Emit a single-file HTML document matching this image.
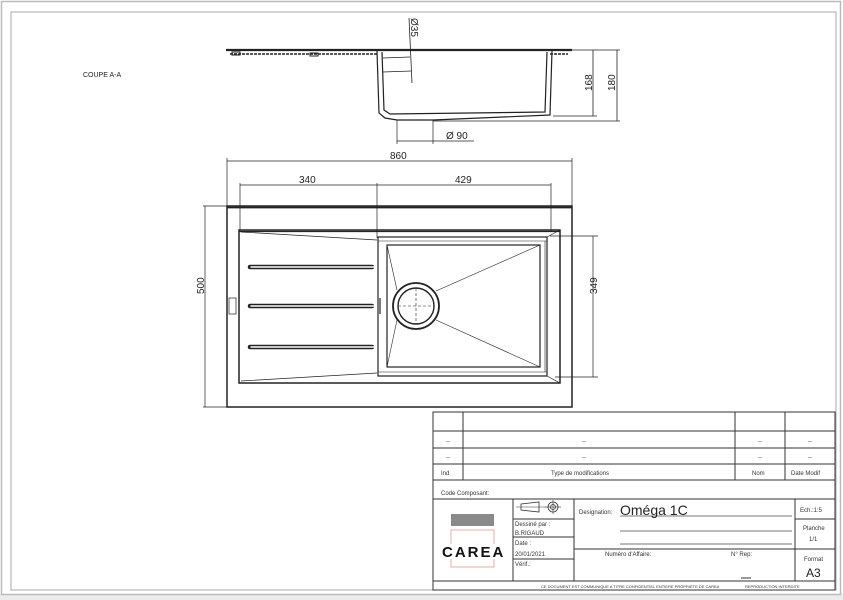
<!DOCTYPE html>
<html><head><meta charset="utf-8"><style>
html,body{margin:0;padding:0;background:#fff;}
svg{display:block;font-family:"Liberation Sans",sans-serif;}
</style></head><body>
<svg width="843" height="600" viewBox="0 0 843 600" xmlns="http://www.w3.org/2000/svg">
<rect x="0" y="594" width="843" height="6" fill="#ececec"/>
<rect x="1.5" y="1.5" width="839" height="593" fill="none" stroke="#bbb" stroke-width="1.5"/>
<rect x="11" y="12" width="825" height="578" fill="none" stroke="#aaa" stroke-width="1"/>
<text x="83" y="77" font-size="7" fill="#222">COUPE A-A</text>

<!-- section view -->
<g stroke="#222" fill="none">
<line x1="226" y1="50" x2="572" y2="50" stroke-width="2.2"/>
<line x1="230" y1="54" x2="378" y2="54" stroke-width="1.5" stroke-dasharray="3 1"/>
<line x1="550" y1="54" x2="568" y2="54" stroke-width="1.5" stroke-dasharray="3 1"/>
<rect x="232" y="52" width="8" height="3" />
<rect x="310" y="53" width="8" height="3" />
<path d="M377 51 L379 113 L385 118 L397 120 L433 120 L550 115 L552 51" stroke-width="1.2"/>
<path d="M382 52 L384 110 L390 114 L545 112 L547 52" stroke-width="1.2"/>
<line x1="383" y1="58" x2="410" y2="57" stroke-width="0.7"/>
<line x1="383" y1="72" x2="411" y2="71" stroke-width="0.7"/>
<line x1="409" y1="18" x2="412" y2="83" stroke-width="0.8"/>
<line x1="572" y1="50" x2="620" y2="50" stroke-width="0.7"/>
<line x1="553" y1="116" x2="597" y2="116" stroke-width="0.7"/>
<line x1="433" y1="121" x2="620" y2="121" stroke-width="0.7"/>
<line x1="593" y1="50" x2="593" y2="116" stroke-width="0.8"/>
<line x1="617" y1="50" x2="617" y2="121" stroke-width="0.8"/>
<line x1="397" y1="120" x2="397" y2="144" stroke-width="0.7"/>
<line x1="433" y1="120" x2="433" y2="144" stroke-width="0.7"/>
<line x1="397" y1="141" x2="474" y2="141" stroke-width="0.7"/>
</g>
<text x="0" y="0" font-size="10" transform="translate(411,18) rotate(90)" fill="#222">Ø35</text>
<text x="0" y="0" font-size="10" transform="translate(592,91) rotate(-90)" fill="#222">168</text>
<text x="0" y="0" font-size="10" transform="translate(615,91) rotate(-90)" fill="#222">180</text>
<text x="446" y="139" font-size="10" fill="#222">Ø 90</text>

<!-- plan view -->
<text x="390" y="159" font-size="10" fill="#222">860</text>
<text x="299" y="183" font-size="10" fill="#222">340</text>
<text x="455" y="183" font-size="10" fill="#222">429</text>
<text x="0" y="0" font-size="10" transform="translate(204,294) rotate(-90)" fill="#222">500</text>
<text x="0" y="0" font-size="10" transform="translate(597,294) rotate(-90)" fill="#222">349</text>
<g stroke="#222" fill="none">
<line x1="227" y1="161" x2="572" y2="161" stroke-width="0.7"/>
<line x1="227" y1="158" x2="227" y2="206" stroke-width="0.7"/>
<line x1="572" y1="158" x2="572" y2="206" stroke-width="0.7"/>
<line x1="240" y1="185" x2="551" y2="185" stroke-width="0.7"/>
<line x1="240" y1="183" x2="240" y2="230" stroke-width="0.7"/>
<line x1="377" y1="183" x2="377" y2="238" stroke-width="0.7"/>
<line x1="551" y1="183" x2="551" y2="232" stroke-width="0.7"/>
<line x1="205" y1="206" x2="205" y2="407" stroke-width="0.7"/>
<line x1="203" y1="206" x2="227" y2="206" stroke-width="0.7"/>
<line x1="203" y1="407" x2="227" y2="407" stroke-width="0.7"/>
<line x1="593" y1="236" x2="593" y2="377" stroke-width="0.7"/>
<line x1="550" y1="236" x2="598" y2="236" stroke-width="0.7"/>
<line x1="555" y1="377" x2="598" y2="377" stroke-width="0.7"/>
<rect x="227" y="206" width="345" height="201" stroke-width="1.5"/>
<line x1="227" y1="207.5" x2="572" y2="207.5" stroke-width="1.8"/>
<rect x="239" y="230" width="321" height="153" stroke-width="1.5"/>
<line x1="239" y1="231.5" x2="560" y2="231.5" stroke-width="1.2"/>
<line x1="241" y1="232" x2="377" y2="240" stroke-width="0.7"/>
<line x1="241" y1="381" x2="377" y2="373" stroke-width="0.7"/>
<rect x="378" y="237" width="169" height="139" stroke-width="1.2"/>
<rect x="387" y="245" width="153" height="122" stroke-width="1.2"/>
<line x1="378" y1="241" x2="547" y2="241" stroke-width="0.6"/>
<line x1="540" y1="245" x2="540" y2="367" stroke-width="0.6"/>
<line x1="545" y1="241" x2="545" y2="372" stroke-width="0.6"/>
<line x1="378" y1="372" x2="547" y2="372" stroke-width="0.6"/>
<line x1="547" y1="237" x2="560" y2="230" stroke-width="0.7"/>
<line x1="547" y1="376" x2="560" y2="383" stroke-width="0.7"/>
<line x1="387" y1="245" x2="397" y2="290" stroke-width="0.6"/>
<line x1="387" y1="367" x2="397" y2="320" stroke-width="0.6"/>
<line x1="540" y1="245" x2="436" y2="291" stroke-width="0.6"/>
<line x1="540" y1="367" x2="436" y2="320" stroke-width="0.6"/>
<circle cx="416" cy="306" r="23" stroke-width="1.8"/>
<circle cx="416" cy="306" r="18" stroke-width="1.4"/>
<line x1="398" y1="306" x2="434" y2="306" stroke-width="0.6" stroke-dasharray="3 2"/>
<line x1="416" y1="288" x2="416" y2="324" stroke-width="0.6" stroke-dasharray="3 2"/>
<rect x="229" y="298" width="7" height="16" stroke-width="0.7"/>
<line x1="380" y1="298" x2="380" y2="314" stroke-width="1.2"/>
</g>
<g stroke="#222" stroke-width="4.5" stroke-linecap="round"><line x1="250" y1="267" x2="372" y2="267"/><line x1="250" y1="306" x2="372" y2="306"/><line x1="250" y1="347" x2="372" y2="347"/></g>
<g stroke="#fff" stroke-width="1.5" stroke-linecap="round"><line x1="251" y1="267" x2="376" y2="267"/><line x1="251" y1="306" x2="376" y2="306"/><line x1="251" y1="347" x2="376" y2="347"/></g>

<!-- title block -->
<g stroke="#333" fill="none" stroke-width="1">
<rect x="433" y="412" width="402" height="178"/>
<line x1="433" y1="431" x2="835" y2="431"/>
<line x1="433" y1="448" x2="835" y2="448"/>
<line x1="433" y1="464" x2="835" y2="464"/>
<line x1="433" y1="480" x2="835" y2="480"/>
<line x1="433" y1="499" x2="835" y2="499"/>
<line x1="433" y1="581" x2="835" y2="581"/>
<line x1="463" y1="412" x2="463" y2="480"/>
<line x1="735" y1="412" x2="735" y2="480"/>
<line x1="785" y1="412" x2="785" y2="480"/>
<line x1="513" y1="499" x2="513" y2="581"/>
<line x1="574" y1="499" x2="574" y2="581"/>
<line x1="795" y1="499" x2="795" y2="581"/>
<line x1="513" y1="519" x2="574" y2="519"/>
<line x1="513" y1="537" x2="574" y2="537"/>
<line x1="513" y1="559" x2="574" y2="559"/>
<line x1="574" y1="549" x2="835" y2="549"/>
<line x1="795" y1="519" x2="835" y2="519"/>
<line x1="620" y1="516" x2="792" y2="516" stroke="#777"/>
<line x1="620" y1="531" x2="792" y2="531" stroke="#777"/>
<line x1="620" y1="544" x2="792" y2="544" stroke="#777"/>
<line x1="741" y1="578" x2="751" y2="578"/>
<path d="M521 504 L539 502 L539 512 L521 510 Z" stroke-width="0.8"/>
<line x1="516" y1="507" x2="546" y2="507" stroke-width="0.6"/>
<circle cx="553" cy="507" r="5" stroke-width="0.8"/><circle cx="553" cy="507" r="2.5" stroke-width="0.8"/>
<line x1="545" y1="507" x2="561" y2="507" stroke-width="0.6"/><line x1="553" y1="500" x2="553" y2="514" stroke-width="0.6"/>
</g>
<rect x="451" y="514" width="43" height="12" fill="#8a8a8a"/>
<rect x="451" y="530" width="43" height="37" fill="none" stroke="#d99" stroke-width="0.8"/>
<rect x="443" y="544" width="60" height="15" fill="#fff"/>
<text x="442" y="557" font-size="15" font-weight="bold" letter-spacing="2" fill="#111">CAREA</text>
<g font-size="6" fill="#333">
<text x="446" y="443">--</text><text x="582" y="443">--</text><text x="758" y="443">--</text><text x="808" y="443">--</text>
<text x="446" y="459">--</text><text x="582" y="459">--</text><text x="758" y="459">--</text><text x="808" y="459">--</text>
<text x="441" y="475">Ind</text><text x="551" y="475">Type de modifications</text><text x="752" y="475">Nom</text><text x="791" y="475">Date Modif</text>
<text x="441" y="495">Code Composant:</text>
<text x="515" y="526">Dessiné par :</text><text x="515" y="535">B.RIGAUD</text>
<text x="515" y="545">Date :</text><text x="515" y="556">20/01/2021</text><text x="515" y="566">Vérif.:</text>
<text x="579" y="514">Designation:</text>
<text x="605" y="556">Numéro d'Affaire:</text><text x="731" y="556">N° Rep:</text>
<text x="800" y="512">Ech.:1:5</text><text x="803" y="530">Planche</text><text x="809" y="541">1/1</text><text x="804" y="561">Format</text>
<text x="541" y="588" font-size="4">CE DOCUMENT EST COMMUNIQUE A TITRE CONFIDENTIEL ENTIERE PROPRIETE DE CAREA</text>
<text x="745" y="588" font-size="4">REPRODUCTION INTERDITE</text>
</g>
<text x="620" y="515" font-size="14" fill="#222">Oméga 1C</text>
<text x="806" y="577" font-size="12" fill="#222">A3</text>
</svg>
</body></html>
